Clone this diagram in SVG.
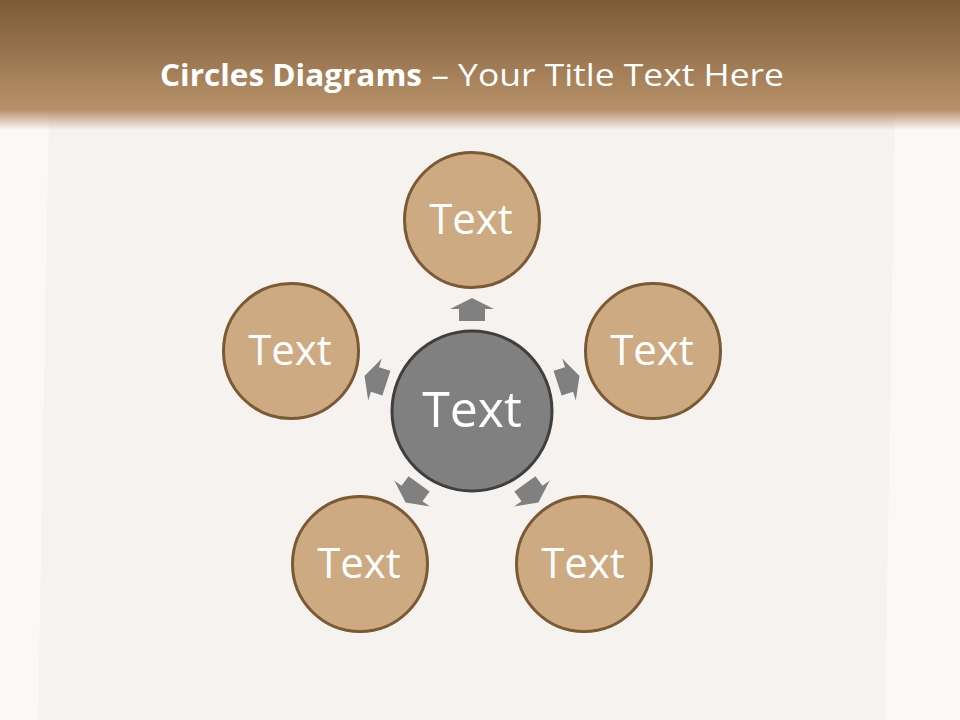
<svg xmlns="http://www.w3.org/2000/svg" width="960" height="720" viewBox="0 0 960 720">
<defs>
<linearGradient id="hdr" x1="0" y1="0" x2="0" y2="1">
<stop offset="0" stop-color="#7b5a35"/>
<stop offset="1" stop-color="#b8916a"/>
</linearGradient>
<linearGradient id="fade" x1="0" y1="0" x2="0" y2="1">
<stop offset="0" stop-color="#b8916a" stop-opacity="1"/>
<stop offset="1" stop-color="#b8916a" stop-opacity="0"/>
</linearGradient>
<polygon id="arrow" points="0,-13 12,-13 12,-22 23,0 12,22 12,13 0,13"/>
</defs>
<style>
.outer{fill:#cdaa82;stroke:#7b5a33;stroke-width:3}
.center{fill:#808080;stroke:#3f3f3f;stroke-width:3}
.lbl{fill:#ffffff;font-family:"Open Sans","Noto Sans",sans-serif;text-anchor:middle}
.arr{fill:#808080}
</style>
<rect x="0" y="0" width="960" height="720" fill="#fcf8f6"/>
<polygon points="49,110 895,110 885,720 38,720" fill="#f5f2f0"/>
<rect x="0" y="0" width="960" height="110" fill="url(#hdr)"/>
<rect x="0" y="110" width="960" height="20" fill="url(#fade)"/>
<text y="86" font-family="'Open Sans','Noto Sans',sans-serif" font-size="31" fill="#ffffff"><tspan x="160" textLength="262" lengthAdjust="spacingAndGlyphs" font-weight="bold">Circles Diagrams</tspan><tspan x="422" textLength="362" lengthAdjust="spacingAndGlyphs"> – Your Title Text Here</tspan></text>
<g id="connectors">
<use href="#arrow" class="arr" transform="translate(472,321) rotate(-90)"/>
<use href="#arrow" class="arr" transform="translate(557.6,383.2) rotate(-18)"/>
<use href="#arrow" class="arr" transform="translate(386.4,383.2) rotate(198)"/>
<use href="#arrow" class="arr" transform="translate(524.9,483.8) rotate(54)"/>
<use href="#arrow" class="arr" transform="translate(419.1,483.8) rotate(126)"/>
</g>
<g id="node-center">
<circle class="center" cx="472" cy="411" r="80"/>
<text class="lbl" x="472" y="427" font-size="50">Text</text>
</g>
<g id="node-top">
<circle class="outer" cx="472" cy="220" r="67.5"/>
<text class="lbl" x="471" y="234" font-size="42">Text</text>
</g>
<g id="node-right">
<circle class="outer" cx="653" cy="351" r="67.5"/>
<text class="lbl" x="652" y="365" font-size="42">Text</text>
</g>
<g id="node-left">
<circle class="outer" cx="291" cy="351" r="67.5"/>
<text class="lbl" x="290" y="365" font-size="42">Text</text>
</g>
<g id="node-bottom-right">
<circle class="outer" cx="584" cy="564" r="67.5"/>
<text class="lbl" x="583" y="578" font-size="42">Text</text>
</g>
<g id="node-bottom-left">
<circle class="outer" cx="360" cy="564" r="67.5"/>
<text class="lbl" x="359" y="578" font-size="42">Text</text>
</g>
</svg>
